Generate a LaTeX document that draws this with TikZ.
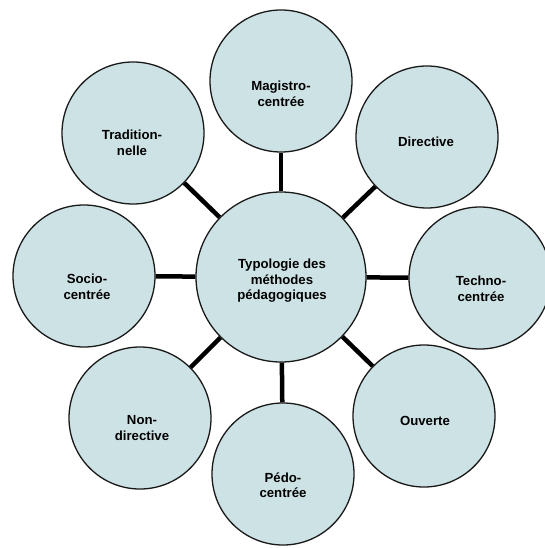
\documentclass[tikz,border=0pt]{standalone}
\usepackage{fontspec}
\setmainfont{Liberation Sans}
\definecolor{circfill}{RGB}{205,226,228}
\definecolor{circline}{RGB}{25,25,25}
\begin{document}
\begin{tikzpicture}[x=1pt,y=-1pt,
  bubble/.style={circle,draw=circline,line width=1.3pt,fill=circfill,minimum size=142pt,inner sep=0pt},
  hub/.style={bubble,minimum size=170pt},
  lbl/.style={align=center,font=\fontsize{13.2}{15.5}\selectfont\bfseries,inner sep=0pt},
  link/.style={line width=4.5pt,black}]
\useasboundingbox[fill=white] (0,0) rectangle (544,548);
% circles
\node[hub] (c) at (281,277) {};
\node[bubble] (mag) at (281,81) {};
\node[bubble] (tra) at (133,133) {};
\node[bubble] (dir) at (427,137) {};
\node[bubble] (soc) at (84,276) {};
\node[bubble] (tec) at (480,278) {};
\node[bubble] (non) at (140,418) {};
\node[bubble] (ped) at (283,474) {};
\node[bubble] (ouv) at (424,416) {};
% connectors
\draw[link] (c) -- (mag);
\draw[link] (c) -- (tra);
\draw[link] (c) -- (dir);
\draw[link] (c) -- (soc);
\draw[link] (c) -- (tec);
\draw[link] (c) -- (non);
\draw[link] (c) -- (ped);
\draw[link] (c) -- (ouv);
% labels
\node[lbl] (lc) at (282,281) {Typologie des\\méthodes\\pédagogiques};
\node[lbl] (lmag) at (281,94) {Magistro-\\centrée};
\node[lbl] (ltra) at (132,143) {Tradition-\\nelle};
\node[lbl] (ldir) at (426,142) {Directive};
\node[lbl] (lsoc) at (87,287) {Socio-\\centrée};
\node[lbl] (ltec) at (481,289) {Techno-\\centrée};
\node[lbl] (lnon) at (142,428) {Non-\\directive};
\node[lbl] (lped) at (283,485) {Pédo-\\centrée};
\node[lbl] (louv) at (425,421) {Ouverte};
\end{tikzpicture}
\end{document}
